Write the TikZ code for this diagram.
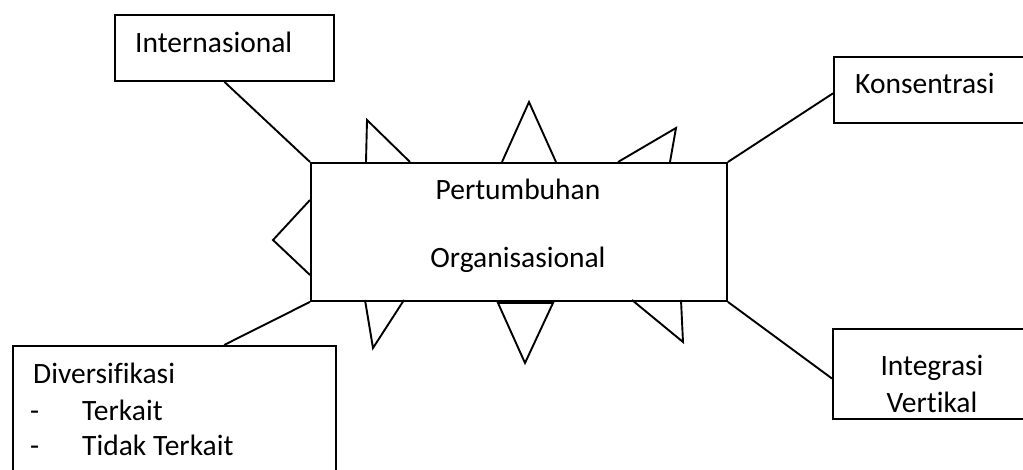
\documentclass[tikz,border=0pt]{standalone}
\usepackage{fontspec}
\setmainfont{Carlito}[Ligatures={NoCommon}]
\usetikzlibrary{calc}
\tikzset{
  box/.style={draw, line width=1.9pt, rectangle, inner sep=0pt, anchor=north west},
  lbl/.style={inner sep=0pt, font=\fontsize{29.5}{35}\selectfont},
  link/.style={line width=1.9pt},
  spike/.style={line width=1.9pt, line join=miter}
}
\begin{document}
\begin{tikzpicture}[x=1pt, y=-1pt]
\useasboundingbox (0,0) rectangle (1023,470);
\clip (0,0) rectangle (1023,470);

% outer boxes
\node[box, minimum width=219pt, minimum height=66pt] (intl) at (114,14) {};
\node[box, minimum width=220pt, minimum height=66pt] (konz) at (833,56) {};
\node[box, minimum width=416pt, minimum height=138pt] (main) at (310,162) {};
\node[box, minimum width=220pt, minimum height=90pt] (integ) at (832,328) {};
\node[box, minimum width=323pt, minimum height=160pt] (div) at (12,345) {};

% labels
\node[lbl, anchor=base west] (tintl) at (135,53) {Internasional};
\node[lbl, anchor=base west] (tkonz) at (855,94) {Konsentrasi};
\node[lbl, anchor=base] (tgrow) at (518,200) {Pertumbuhan};
\node[lbl, anchor=base] (torg) at (518,268) {Organisasional};
\node[lbl, anchor=base] (tint1) at (932,375) {Integrasi};
\node[lbl, anchor=base] (tint2) at (932,412) {Vertikal};
\node[lbl, anchor=base west] (tdiv) at (33,384) {Diversifikasi};
\node[lbl, anchor=base west] (dash1) at (30,420) {-};
\node[lbl, anchor=base west] (tdiv1) at (82,420) {Terkait};
\node[lbl, anchor=base west] (dash2) at (30,455) {-};
\node[lbl, anchor=base west] (tdiv2) at (82,455) {Tidak Terkait};

% connectors
\draw[link] (intl.south) -- (main.north west);
\draw[link] (main.north east) -- ($(konz.north west)!0.55!(konz.south west)$);
\draw[link] (main.south east) -- ($(integ.north west)!0.55!(integ.south west)$);
\draw[link] (main.south west) -- ($(div.north west)!0.653!(div.north east)$);

% spikes around the central box
\draw[spike] (366,162) -- (367,120) -- (410,162);
\draw[spike] (502,162) -- (529,102) -- (556,162);
\draw[spike] (618,162) -- (676,128) -- (670,162);
\draw[spike] (310,200) -- (273,240) -- (310,275);
\draw[spike] (365,300) -- (373,348) -- (404,300);
\draw[spike] (498,303) -- (525,363) -- (553,303) -- cycle;
\draw[spike] (632,300) -- (683,342) -- (681,300);
\end{tikzpicture}
\end{document}
